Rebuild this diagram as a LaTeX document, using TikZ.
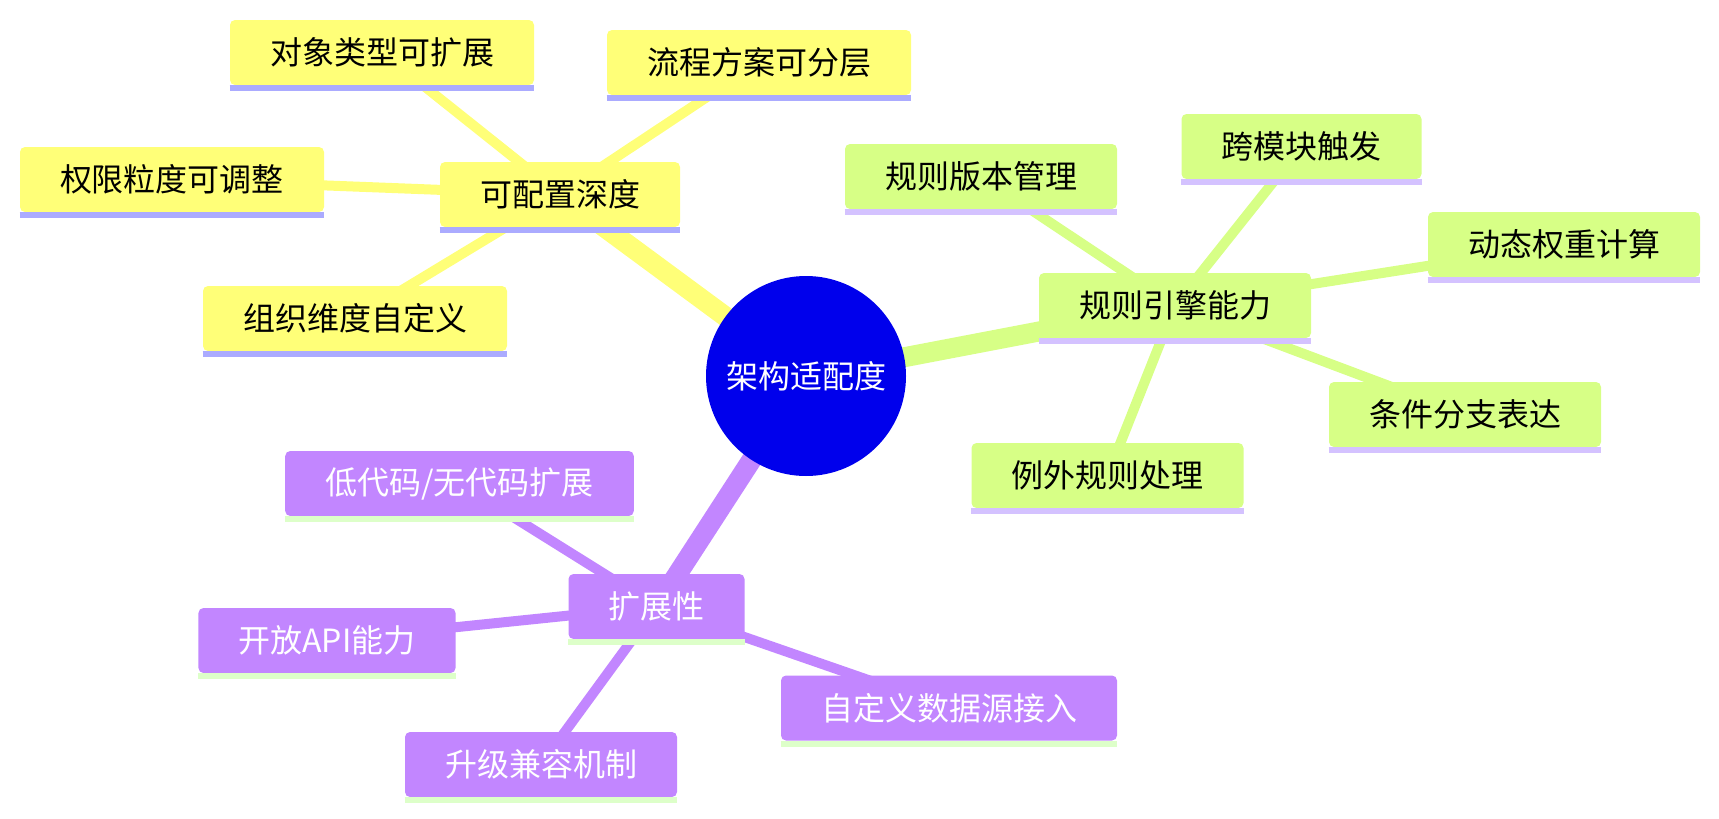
\documentclass[tikz,border=0pt]{standalone}
\usepackage{fontspec}
\setmainfont{Noto Sans CJK SC}
\usepackage{tikz}
\usetikzlibrary{backgrounds}
\definecolor{croot}{HTML}{0000EC}
\definecolor{cyel}{HTML}{FFFF78}
\definecolor{cgrn}{HTML}{D7FF86}
\definecolor{cpur}{HTML}{C286FF}
\definecolor{cyelbar}{HTML}{ABABFF}
\definecolor{cgrnbar}{HTML}{D4C2FF}
\definecolor{cpurbar}{HTML}{DDFFC9}
\tikzset{
  mm/.style={rounded corners=2.5pt, align=center, font=\fontsize{16}{19}\selectfont,
             minimum height=32.5pt, inner xsep=20pt, inner ysep=0pt},
  bar/.style={append after command={([yshift=-1.4pt]\tikzlastnode.south west)
              edge[draw=#1, line width=2.8pt] ([yshift=-1.4pt]\tikzlastnode.south east)}},
  ynd/.style={mm, fill=cyel, bar=cyelbar},
  gnd/.style={mm, fill=cgrn, bar=cgrnbar},
  pnd/.style={mm, fill=cpur, text=white, bar=cpurbar},
  rt/.style={circle, fill=croot, text=white, minimum size=100pt, inner sep=0pt,
             font=\fontsize{16}{19}\selectfont},
  e1/.style={line width=10pt},
  e2/.style={line width=5pt},
}

\begin{document}
\begin{tikzpicture}[x=0.5pt, y=-0.5pt]
  \useasboundingbox (0,0) rectangle (1719,819);
  \node[rt] (root) at (806,376) {架构适配度};
  % ---------- 可配置深度 ----------
  \node[ynd] (depth) at (560,194.5) {可配置深度};
  \node[ynd] (objtype) at (382,52.5) {对象类型可扩展};
  \node[ynd] (flow) at (759,62.5) {流程方案可分层};
  \node[ynd] (perm) at (172,179.5) {权限粒度可调整};
  \node[ynd] (org) at (355,318.5) {组织维度自定义};
  % ---------- 规则引擎能力 ----------
  \node[gnd] (rules) at (1175,305.5) {规则引擎能力};
  \node[gnd] (version) at (981,176.5) {规则版本管理};
  \node[gnd] (cross) at (1301.5,146.5) {跨模块触发};
  \node[gnd] (weight) at (1564,244.5) {动态权重计算};
  \node[gnd] (branch) at (1465,414.5) {条件分支表达};
  \node[gnd] (except) at (1107.5,475.5) {例外规则处理};
  % ---------- 扩展性 ----------
  \node[pnd] (ext) at (656.5,606.5) {扩展性};
  \node[pnd] (lowcode) at (459.5,483.5) {低代码/无代码扩展};
  \node[pnd] (api) at (327,640.5) {开放API能力};
  \node[pnd] (datasrc) at (949,708) {自定义数据源接入};
  \node[pnd] (upgrade) at (541,764.5) {升级兼容机制};
  % ---------- edges ----------
  \begin{scope}[on background layer]
    \draw[e1, cyel] (root.center) -- (depth.center);
    \draw[e1, cgrn] (root.center) -- (rules.center);
    \draw[e1, cpur] (root.center) -- (ext.center);
    \foreach \n in {objtype, flow, perm, org}
      \draw[e2, cyel] (depth.center) -- (\n.center);
    \foreach \n in {version, cross, weight, branch, except}
      \draw[e2, cgrn] (rules.center) -- (\n.center);
    \foreach \n in {lowcode, api, datasrc, upgrade}
      \draw[e2, cpur] (ext.center) -- (\n.center);
  \end{scope}
\end{tikzpicture}
\end{document}
